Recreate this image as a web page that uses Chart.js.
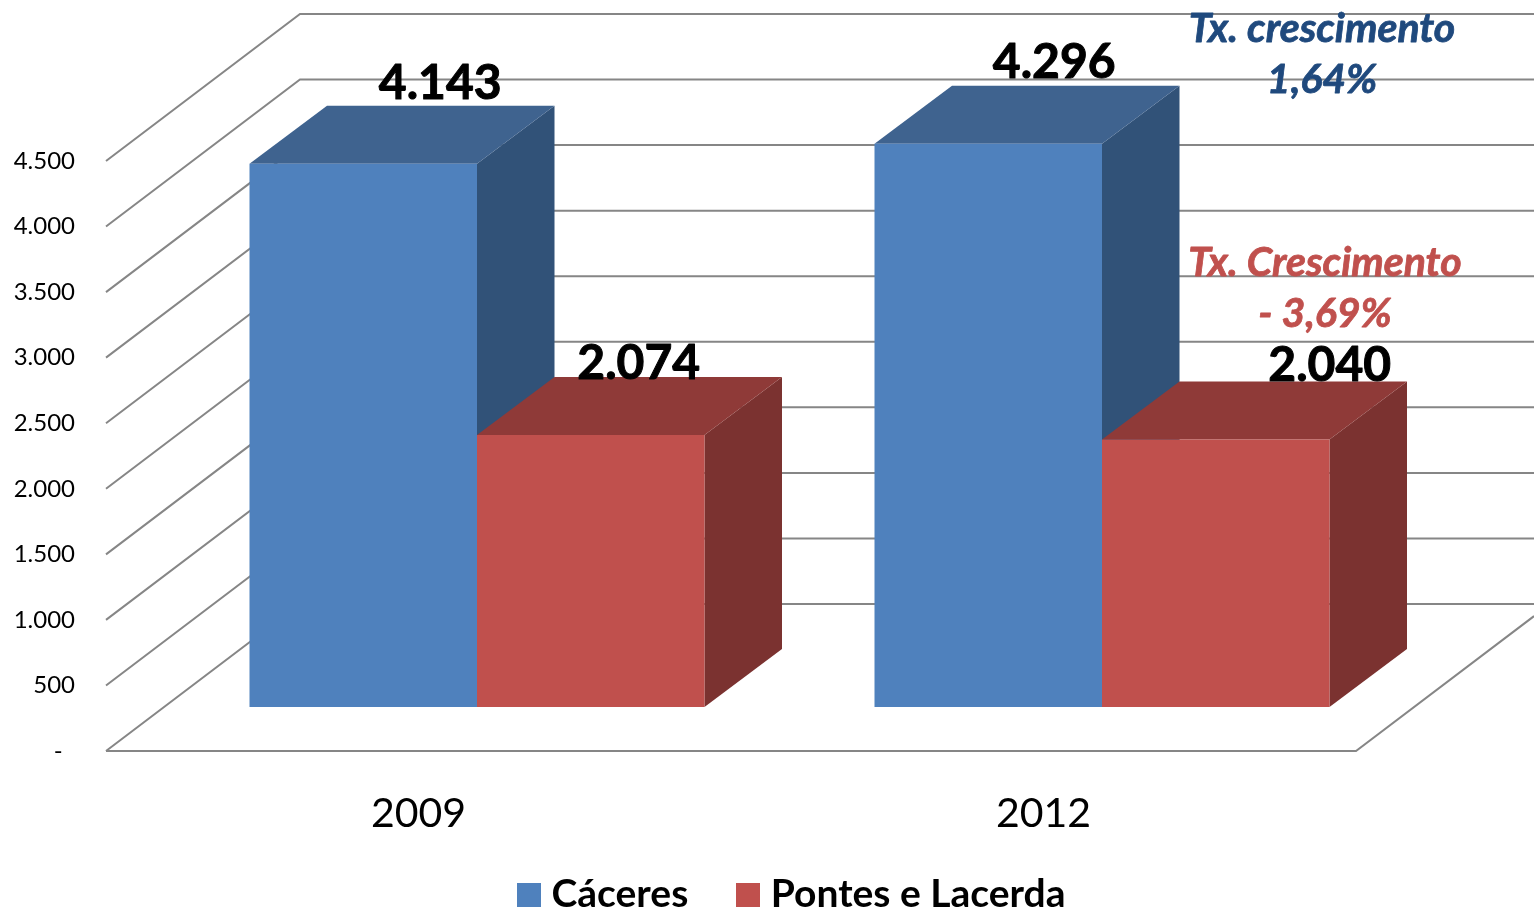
<!DOCTYPE html>
<html>
<head>
<meta charset="utf-8">
<style>html,body{margin:0;padding:0;background:#fff;overflow:hidden}canvas{display:block}</style>
<script src="https://cdn.jsdelivr.net/npm/chart.js@4"></script>
</head>
<body>
<canvas id="c" width="1534" height="909"></canvas>
<script>
const years = ['2009', '2012'];
const caceres = [4143, 4296];
const pontesLacerda = [2074, 2040];
const yTicksMax = 4500;
const yTickStep = 500;
const growthBlue = ['Tx. crescimento', '1,64%'];
const growthRed = ['Tx. Crescimento', '- 3,69%'];

const FONT = 'Lato, Carlito, Calibri, sans-serif';
const GRID = '#868686';
const WALL = {dx: 194, dy: -147, right: 1534};
const SHIFT = {dx: 58.5, dy: -44};
const DEPTH = {dx: 77.5, dy: -58};
const FACES = [{top: '#3F638F', side: '#315278'}, {top: '#8F3A38', side: '#7B3230'}];
const LABEL_OFFSETS = [[[77, -80], [66, -81]], [[48, -72], [114, -74]]];
const ANNOTATIONS = [
  {lines: growthBlue, color: '#1F497D', x: 1322, ys: [29, 80]},
  {lines: growthRed, color: '#C0504D', x: 1325, ys: [263, 314]}
];

function swatch(color) {
  const s = document.createElement('canvas');
  s.width = 24; s.height = 24;
  const g = s.getContext('2d');
  g.fillStyle = color; g.fillRect(0, 0, 24, 24);
  return s;
}
const swatches = [swatch('#4F81BD'), swatch('#C0504D')];

function fmt(v) { return String(v).replace(/\B(?=(\d{3})+$)/g, '.'); }

function boldText(ctx, text, x, y, color, w) {
  ctx.fillStyle = color;
  ctx.strokeStyle = color;
  ctx.lineWidth = w;
  ctx.lineJoin = 'round';
  ctx.strokeText(text, x, y);
  ctx.fillText(text, x, y);
}

const scene3d = {
  id: 'scene3d',
  afterLayout(chart) {
    chart.legend.left = 469;
    chart.legend.right = 1534;
    chart.legend.top = 819;
    chart.scales.x.bottom = 909;
  },
  beforeDatasetsDraw(chart) {
    const {ctx, scales: {y}, chartArea: a} = chart;
    ctx.save();
    ctx.strokeStyle = GRID;
    ctx.lineWidth = 2;
    ctx.lineJoin = 'miter';
    for (let v = 0; v <= yTicksMax; v += yTickStep) {
      const py = y.getPixelForValue(v);
      ctx.beginPath();
      ctx.moveTo(a.left, py);
      ctx.lineTo(a.left + WALL.dx, py + WALL.dy);
      ctx.lineTo(WALL.right, py + WALL.dy);
      ctx.stroke();
    }
    const by = y.getPixelForValue(0);
    const t = (WALL.right - a.right) / WALL.dx;
    ctx.beginPath();
    ctx.moveTo(a.left, by);
    ctx.lineTo(a.right, by);
    ctx.lineTo(WALL.right, by + WALL.dy * t);
    ctx.stroke();
    ctx.restore();

    ctx.save();
    ctx.translate(SHIFT.dx, SHIFT.dy);
    chart.data.datasets.forEach((ds, di) => {
      chart.getDatasetMeta(di).data.forEach(bar => {
        const l = bar.x - bar.width / 2, r = bar.x + bar.width / 2;
        ctx.fillStyle = FACES[di].side;
        ctx.beginPath();
        ctx.moveTo(r, bar.y);
        ctx.lineTo(r + DEPTH.dx, bar.y + DEPTH.dy);
        ctx.lineTo(r + DEPTH.dx, bar.base + DEPTH.dy);
        ctx.lineTo(r, bar.base);
        ctx.closePath();
        ctx.fill();
        ctx.fillStyle = FACES[di].top;
        ctx.beginPath();
        ctx.moveTo(l, bar.y);
        ctx.lineTo(l + DEPTH.dx, bar.y + DEPTH.dy);
        ctx.lineTo(r + DEPTH.dx, bar.y + DEPTH.dy);
        ctx.lineTo(r, bar.y);
        ctx.closePath();
        ctx.fill();
      });
    });
  },
  afterDatasetsDraw(chart) {
    const {ctx} = chart;
    ctx.restore();
    ctx.save();
    ctx.textAlign = 'center';
    ctx.textBaseline = 'middle';
    ctx.font = 'bold 48px ' + FONT;
    chart.data.datasets.forEach((ds, di) => {
      chart.getDatasetMeta(di).data.forEach((bar, i) => {
        const [ox, oy] = LABEL_OFFSETS[di][i];
        boldText(ctx, fmt(ds.data[i]), bar.x + SHIFT.dx + ox, bar.y + SHIFT.dy + oy, '#000', 1);
      });
    });
    ctx.font = 'italic bold 41px ' + FONT;
    ANNOTATIONS.forEach(a => {
      a.lines.forEach((t, i) => boldText(ctx, t, a.x, a.ys[i], a.color, 0.8));
    });
    ctx.restore();
  }
};

new Chart(document.getElementById('c'), {
  type: 'bar',
  data: {
    labels: years,
    datasets: [
      {label: 'Cáceres', data: caceres, backgroundColor: '#4F81BD', borderWidth: 0, clip: false},
      {label: 'Pontes e Lacerda', data: pontesLacerda, backgroundColor: '#C0504D', borderWidth: 0, clip: false}
    ]
  },
  options: {
    responsive: false,
    animation: false,
    events: [],
    datasets: {bar: {barPercentage: 1, categoryPercentage: 0.728}},
    layout: {padding: {left: 0, right: 178, top: 161, bottom: 0}},
    plugins: {
      tooltip: {enabled: false},
      legend: {
        display: true,
        position: 'bottom',
        align: 'start',
        labels: {
          usePointStyle: true,
          pointStyleWidth: 7,
          padding: 56,
          color: '#000',
          font: {family: FONT, size: 39, weight: 'bold'},
          generateLabels(chart) {
            return Chart.defaults.plugins.legend.labels.generateLabels(chart).map((it, i) => {
              it.pointStyle = swatches[i];
              return it;
            });
          }
        }
      }
    },
    scales: {
      x: {
        grid: {display: false},
        border: {display: false},
        ticks: {color: '#000', font: {family: FONT, size: 41}, padding: 30, maxRotation: 0, autoSkip: false},
        afterFit(s) { s.height = 158 - s.chart.legend.height; }
      },
      y: {
        min: 0,
        max: yTicksMax,
        grid: {display: false, drawTicks: false},
        border: {display: false},
        ticks: {
          stepSize: yTickStep,
          color: '#000',
          padding: 31,
          font: {family: FONT, size: 24},
          callback: v => v === 0 ? '-\u00A0\u00A0' : fmt(v)
        },
        afterFit(s) { s.width = 106; }
      }
    }
  },
  plugins: [scene3d]
});
</script>
</body>
</html>
